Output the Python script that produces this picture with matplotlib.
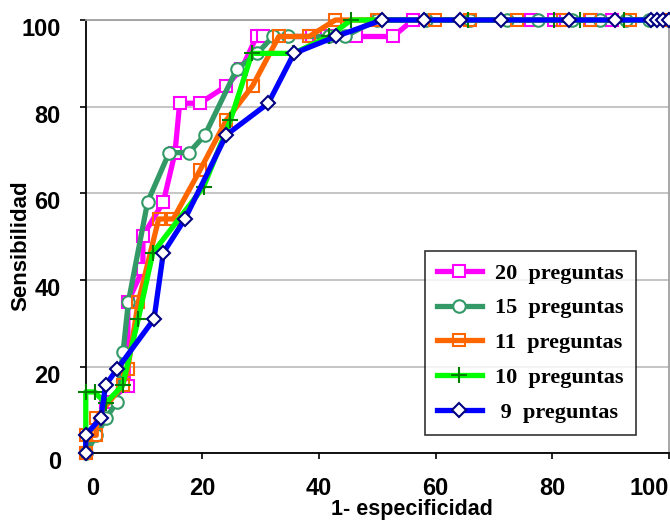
import matplotlib
matplotlib.use('Agg')
import matplotlib.pyplot as plt
from matplotlib.transforms import ScaledTranslation

# curvas ROC por numero de preguntas

x20 = [0, 3.4, 7.3, 7.2, 9.8, 9.8, 13.3, 15.3, 16.1, 19.6, 24.1, 26.7, 29.3, 30.4,
       38.8, 40.0, 41.3, 46.4, 52.7, 56.1, 76.4, 80.2, 86.7, 90.2, 100]
y20 = [0, 11.8, 15.6, 34.9, 42.5, 50.2, 58.0, 69.4, 80.8, 80.8, 84.8, 88.7, 96.2, 96.2,
       96.2, 96.2, 96.2, 96.2, 96.2, 100, 100, 100, 100, 100, 100]

x15 = [0, 1.8, 3.5, 5.3, 6.4, 7.3, 10.6, 14.3, 17.7, 20.4, 25.9, 29.4, 32.1, 34.7,
       41.7, 44.4, 49.9, 58.4, 65.9, 72.2, 77.5, 83.3, 88.2, 92.7, 96.5, 100]
y15 = [0, 4.2, 8.2, 11.8, 23.4, 34.9, 58.0, 69.4, 69.4, 73.4, 88.7, 92.3, 96.2, 96.2,
       96.2, 96.2, 100, 100, 100, 100, 100, 100, 100, 100, 100, 100]

x11 = [0, 0, 1.8, 1.8, 6.3, 7.2, 9.0, 12.5, 15.0, 19.6, 24.1, 28.6, 33.1, 38.3,
       42.8, 49.9, 59.9, 65.9, 73.9, 81.9, 86.5, 93.3, 100]
y11 = [0, 4.2, 4.2, 8.2, 15.7, 19.5, 34.9, 54.1, 54.1, 65.4, 76.9, 84.8, 96.2, 96.2,
       100, 100, 100, 100, 100, 100, 100, 100, 100]

x10 = [0, 0, 1.5, 3.4, 6.3, 9.0, 11.5, 20.2, 24.8, 28.5, 35.6, 41.7, 45.5, 65.6,
       80.2, 84.7, 92.2, 100]
y10 = [0, 14.2, 14.2, 11.6, 15.7, 31.0, 46.3, 61.5, 76.9, 92.3, 92.3, 96.2, 100, 100,
       100, 100, 100, 100]

x9 = [0, 0, 2.6, 3.4, 5.4, 11.7, 13.3, 17.0, 24.1, 31.3, 35.7, 42.9, 50.8, 58.0,
      64.1, 71.2, 82.8, 90.8, 97, 98, 99, 100]
y9 = [0, 4.3, 8.2, 15.8, 19.5, 31.0, 46.3, 54.1, 73.5, 80.8, 92.3, 96.2, 100, 100,
      100, 100, 100, 100, 100, 100, 100, 100]

etiquetas = ['20  preguntas', '15  preguntas', '11  preguntas', '10  preguntas', ' 9  preguntas']


def main():
    fig = plt.figure(figsize=(6.7, 5.21), dpi=100)
    ax = fig.add_axes([0.128, 0.1296, 0.8705, 0.832])

    lw = 3.8
    ax.plot(x20, y20, color='#ff00ff', lw=lw, marker='s', ms=9, mfc='white',
            mec='#ff00ff', mew=1.5, label=etiquetas[0], clip_on=False, zorder=3)
    ax.plot(x15, y15, color='#339966', lw=lw, marker='o', ms=9, mfc='white',
            mec='#339966', mew=1.5, label=etiquetas[1], clip_on=False, zorder=3)
    ax.plot(x11, y11, color='#ff6600', lw=lw, marker='s', ms=9, mfc='none',
            mec='#ff6600', mew=1.5, label=etiquetas[2], clip_on=False, zorder=3)
    ax.plot(x10, y10, color='#00ff00', lw=lw, marker='+', ms=11, mec='#008000',
            mew=1.5, label=etiquetas[3], clip_on=False, zorder=3)
    ax.plot(x9, y9, color='#0000ff', lw=lw, marker='D', ms=7, mfc='white',
            mec='#000080', mew=1.5, label=etiquetas[4], clip_on=False, zorder=3)

    ax.set_xlim(0, 100)
    ax.set_ylim(0, 100)
    ax.set_xticks(range(0, 101, 20))
    ax.set_yticks(range(0, 101, 20))
    ax.yaxis.grid(True, color='#c0c0c0', lw=1.3)
    ax.set_axisbelow(True)
    for s in ['top', 'right']:
        ax.spines[s].set_color('#a0a0a0')
        ax.spines[s].set_linewidth(1.3)
    for s in ['left', 'bottom']:
        ax.spines[s].set_color('black')
        ax.spines[s].set_linewidth(1.3)

    fnt = dict(family='Liberation Sans', weight='bold', size=17)
    ax.tick_params(axis='both', length=4, width=1.2, direction='out')
    ax.tick_params(axis='x', pad=13)
    ax.tick_params(axis='y', pad=14)
    ax.set_xticklabels([str(v) for v in range(0, 101, 20)], **fnt)
    ax.set_yticklabels([str(v) for v in range(0, 101, 20)], **fnt)
    xl = ax.get_xticklabels()
    xl[0].set_ha('left')
    xl[-1].set_ha('right')
    # etiquetas del eje y algo mas abajo, como en el original
    bajar = ScaledTranslation(0, -5 / 72, fig.dpi_scale_trans)
    for t in ax.get_yticklabels():
        t.set_transform(t.get_transform() + bajar)

    ax.set_xlabel('1- especificidad', family='Liberation Sans', weight='bold',
                  size=15.5, va='bottom')
    ax.xaxis.set_label_coords(0.559, -0.153)
    ax.set_ylabel('Sensibilidad', family='Liberation Sans', weight='bold', size=16)
    ax.yaxis.set_label_coords(-0.093, 0.48)

    leg = ax.legend(loc='lower right', bbox_to_anchor=(0.943, 0.043),
                    prop=dict(family='Liberation Serif', weight='bold', size=16),
                    frameon=True, fancybox=False, edgecolor='black',
                    handlelength=2.0, labelspacing=0.64, borderpad=0.55,
                    borderaxespad=0, handletextpad=0.6)
    leg.get_frame().set_linewidth(1.2)

    plt.savefig('out.png', dpi=100)


if __name__ == '__main__':
    main()
